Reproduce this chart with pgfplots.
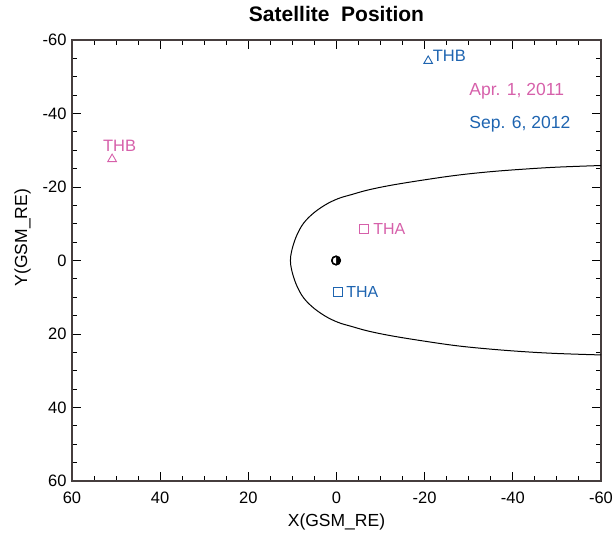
\documentclass[border=0pt]{standalone}
\usepackage{pgfplots}
\pgfplotsset{compat=1.18}
\usepackage{fontspec}
\setmainfont{Liberation Sans}
\definecolor{pk}{RGB}{214,96,170}
\definecolor{bl}{RGB}{30,100,176}
\definecolor{axc}{RGB}{70,62,62}
\begin{document}
\begin{tikzpicture}
\begin{axis}[
  name=ax,
  width=529pt, height=441pt, scale only axis,
  x dir=reverse, y dir=reverse,
  xmin=-60, xmax=60, ymin=-60, ymax=60,
  xtick={-60,-40,...,60}, ytick={-60,-40,...,60},
  minor tick num=3,
  tick align=inside,
  major tick length=9pt, minor tick length=5pt,
  every tick/.style={black, line width=1pt},
  axis line style={axc, line width=1.3pt},
  /pgf/number format/assume math mode=true,
  tick label style={font=\fontsize{16.5}{18}\selectfont},
  xticklabel style={anchor=base, yshift=-22pt},
  yticklabel style={anchor=east, xshift=-2pt},
  xlabel={X(GSM\_RE)}, ylabel={Y(GSM\_RE)},
  label style={font=\fontsize{17.5}{19}\selectfont},
  xlabel style={at={(axis description cs:0.5,0)}, anchor=base, yshift=-45pt},
  ylabel style={at={(axis description cs:-0.0936,0.552)}, anchor=center},
  title={Satellite\ \ Position},
  title style={font=\fontsize{21}{23}\selectfont\bfseries, at={(axis description cs:0.5,1)}, anchor=base, yshift=13pt},
  clip=false,
]
% magnetopause
\addplot[black, line width=1pt, smooth, tension=0.6] coordinates {
(-60,-25.85) (-50,-25.4) (-42.4,-24.85) (-34.8,-24.15) (-27.3,-23.2) (-19.7,-21.9) (-12.5,-20.5) (-7.2,-19.2) (-3.45,-17.95) (-0.4,-16.85) (2.6,-15.1) (5.6,-12.5) (7.9,-9.4) (9.6,-5.0) (10.45,0)
(9.6,5.0) (7.9,9.4) (5.6,12.5) (2.6,15.1) (-0.4,16.85) (-3.45,17.95) (-7.2,19.2) (-12.5,20.5) (-19.7,21.9) (-27.3,23.2) (-34.8,24.1) (-42.4,24.8) (-50,25.3) (-60,25.7)
};
% Earth
\addplot[only marks, mark=*, mark size=4.2pt, mark options={fill=white, draw=black, line width=1.5pt}] coordinates {(0.1,0)};
\addplot[only marks, mark=halfcircle*, mark size=4.2pt, mark options={rotate=-90, fill=black, draw=black, line width=1.5pt}] coordinates {(0.1,0)};
% satellites
\addplot[only marks, mark=square, mark size=4.3pt, mark options={draw=pk, line width=1pt}] coordinates {(-6.2,-8.6)};
\addplot[only marks, mark=square, mark size=4.3pt, mark options={draw=bl, line width=1pt}] coordinates {(-0.3,8.6)};
\addplot[only marks, mark=triangle, mark size=5pt, mark options={draw=pk, line width=0.9pt}] coordinates {(50.9,-27.6)};
\addplot[only marks, mark=triangle, mark size=5pt, mark options={draw=bl, line width=0.9pt}] coordinates {(-20.8,-54.3)};
\node[anchor=west, text=pk, font=\fontsize{16}{18}\selectfont, inner sep=0pt] at (axis cs:-8.3,-8.6) {THA};
\node[anchor=west, text=bl, font=\fontsize{16}{18}\selectfont, inner sep=0pt] at (axis cs:-2.2,8.6) {THA};
\node[anchor=base west, text=pk, font=\fontsize{16.5}{18}\selectfont, inner sep=0pt] at (axis cs:53.0,-29.6) {THB};
\node[anchor=base west, text=bl, font=\fontsize{16.5}{18}\selectfont, inner sep=0pt] at (axis cs:-21.8,-54.1) {THB};
\node[anchor=base west, text=pk, font=\fontsize{17.5}{19}\selectfont, inner sep=0pt] at (axis cs:-30.1,-44.8) {Apr. 1, 2011};
\node[anchor=base west, text=bl, font=\fontsize{17.5}{19}\selectfont, inner sep=0pt] at (axis cs:-30.1,-35.8) {Sep. 6, 2012};
\end{axis}
\pgfresetboundingbox
\path ([shift={(-72pt,-52pt)}]ax.south west) rectangle ([shift={(15pt,40pt)}]ax.north east);
\end{tikzpicture}
\end{document}
